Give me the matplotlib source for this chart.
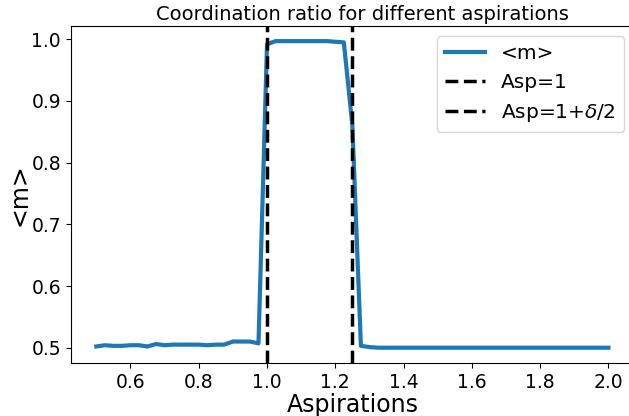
import numpy as np
import matplotlib
matplotlib.use("Agg")
import matplotlib.pyplot as plt

# aspirations 0.5 .. 2.0 with step 0.025
asp = [0.5 + 0.025 * i for i in range(61)]

# 0.5 .. 0.975
m_low = [0.502, 0.504, 0.503, 0.503, 0.504, 0.504, 0.502, 0.506, 0.504, 0.505,
         0.505, 0.505, 0.505, 0.504, 0.505, 0.505, 0.510, 0.510, 0.510, 0.507]
# 1.0 .. 1.25
m_high = [0.992, 0.997, 0.997, 0.997, 0.997, 0.997, 0.997, 0.997, 0.996, 0.995,
          0.860]
# 1.275 .. 2.0
m_tail = [0.503, 0.501, 0.500, 0.500, 0.500, 0.500, 0.500, 0.500, 0.500, 0.500,
          0.500, 0.500, 0.500, 0.500, 0.500, 0.500, 0.500, 0.500, 0.500, 0.500,
          0.500, 0.500, 0.500, 0.500, 0.500, 0.500, 0.500, 0.500, 0.500, 0.500]
m = m_low + m_high + m_tail

asp1 = 1.0
asp2 = 1.25

fig = plt.figure(figsize=(6.29, 4.16), dpi=100)
ax = fig.add_axes([0.1124, 0.1274, 0.8956, 0.8108])

ax.plot(asp, m, color="#1f77b4", lw=3, label="<m>")
ax.axvline(asp1, color="black", ls="--", lw=2.5, label="Asp=1")
ax.axvline(asp2, color="black", ls="--", lw=2.5, label=r"Asp=1+$\delta$/2")

ax.set_xlim(0.425, 2.075)
ax.set_ylim(0.4752, 1.022)
ax.set_xticks([0.6, 0.8, 1.0, 1.2, 1.4, 1.6, 1.8, 2.0])
ax.tick_params(labelsize=13.5)
ax.set_xlabel("Aspirations", fontsize=17, labelpad=1)
ax.set_ylabel("<m>", fontsize=17, labelpad=0)
ax.set_title("Coordination ratio for different aspirations", fontsize=14,
             pad=4, x=0.517)
ax.legend(fontsize=14.5, loc="upper right")

fig.savefig("out.png", dpi=100)
